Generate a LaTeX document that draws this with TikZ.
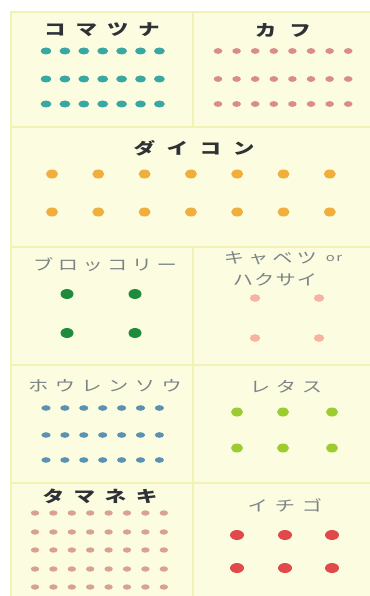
\documentclass[tikz,border=0pt]{standalone}
\usepackage{fontspec}
\newfontfamily\jp{Noto Sans CJK JP}
\definecolor{panelc}{HTML}{FCFCE0}
\definecolor{edgec}{HTML}{F2F2B4}
\definecolor{inkdark}{HTML}{2E3236}
\definecolor{inkgrey}{HTML}{7C8486}
\definecolor{cteal}{HTML}{3AA8A2}
\definecolor{cpink}{HTML}{D98C88}
\definecolor{corange}{HTML}{F0AE3C}
\definecolor{cgreen}{HTML}{1E8C3C}
\definecolor{clpink}{HTML}{F6B2A2}
\definecolor{cblue}{HTML}{5A92B0}
\definecolor{clime}{HTML}{9CCC30}
\definecolor{ctan}{HTML}{D9A290}
\definecolor{cred}{HTML}{E04A4A}
\tikzset{
  panel/.style={fill=panelc, draw=edgec, line width=2.5pt},
  darktitle/.style={font=\jp\bfseries, text=inkdark, inner sep=0pt},
  greytitle/.style={font=\jp, text=inkgrey, inner sep=0pt, align=center}
}
\newcommand\lsp[3]{\scalebox{1.35}[1]{\fontsize{#1}{#1}\selectfont\addfontfeature{LetterSpace=#2}#3}}
\begin{document}
\begin{tikzpicture}[x=1pt,y=-1pt]
\useasboundingbox (0,0) rectangle (369,596);
\fill[white] (0,0) rectangle (369,596);
% panels
\draw[panel] (11,12) rectangle (193,127);
\draw[panel] (193,12) rectangle (374,127);
\draw[panel] (11,127) rectangle (374,247);
\draw[panel] (11,247) rectangle (193,365);
\draw[panel] (193,247) rectangle (374,365);
\draw[panel] (11,365) rectangle (193,483);
\draw[panel] (193,365) rectangle (374,483);
\draw[panel] (11,483) rectangle (193,600);
\draw[panel] (193,483) rectangle (374,600);
% titles
\node[darktitle] (komatsuna) at (102,30) {\lsp{16}{45}{コマツナ}};
\node[darktitle] (kabu) at (283,30) {\lsp{16}{60}{カフ}};
\node[darktitle] (daikon) at (194,148) {\lsp{16}{53}{ダイコン}};
\node[greytitle] (broccoli) at (105,265) {\lsp{15}{22}{ブロッコリー}};
\node[greytitle] (cabbage1) at (283,258) {\lsp{15}{20}{キャベツ}\hspace{9pt}\raisebox{2pt}{\lsp{11}{10}{or}}};
\node[greytitle] (cabbage2) at (275,280) {\lsp{15}{5}{ハクサイ}};
\node[greytitle] (spinach) at (105,386) {\lsp{15}{32}{ホウレンソウ}};
\node[greytitle] (lettuce) at (286,387) {\lsp{15}{28}{レタス}};
\node[darktitle] (onion) at (100,496) {\lsp{16}{44}{タマネキ}};
\node[greytitle] (strawberry) at (285,505) {\lsp{15}{34}{イチゴ}};
% dots
\foreach \i in {0,...,6} \foreach \y in {51,79,104}
  \fill[cteal] (46+\i*18.9,\y) ellipse (5.4 and 3.5);
\foreach \i in {0,...,7} \foreach \y in {51,79,104}
  \fill[cpink] (218+\i*18.6,\y) ellipse (4.3 and 2.9);
\foreach \i in {0,...,6} \foreach \y in {174,212}
  \fill[corange] (52+\i*46.3,\y) ellipse (6 and 4.5);
\foreach \x in {67,135} \foreach \y in {294,333}
  \fill[cgreen] (\x,\y) ellipse (6.5 and 5);
\foreach \x in {255,319} \foreach \y in {298,338}
  \fill[clpink] (\x,\y) ellipse (5.2 and 3.8);
\foreach \i in {0,...,6} \foreach \y in {408,435,460}
  \fill[cblue] (46+\i*18.9,\y) ellipse (4.6 and 2.8);
\foreach \x in {237,283,332} \foreach \y in {412,448}
  \fill[clime] (\x,\y) ellipse (6 and 4.5);
\foreach \i in {0,...,7} \foreach \y in {513,532,550,569,587}
  \fill[ctan] (35+\i*18.4,\y) ellipse (4.2 and 2.7);
\foreach \x in {237,285,332} \foreach \y in {535,568}
  \fill[cred] (\x,\y) ellipse (7 and 5);
\end{tikzpicture}
\end{document}
